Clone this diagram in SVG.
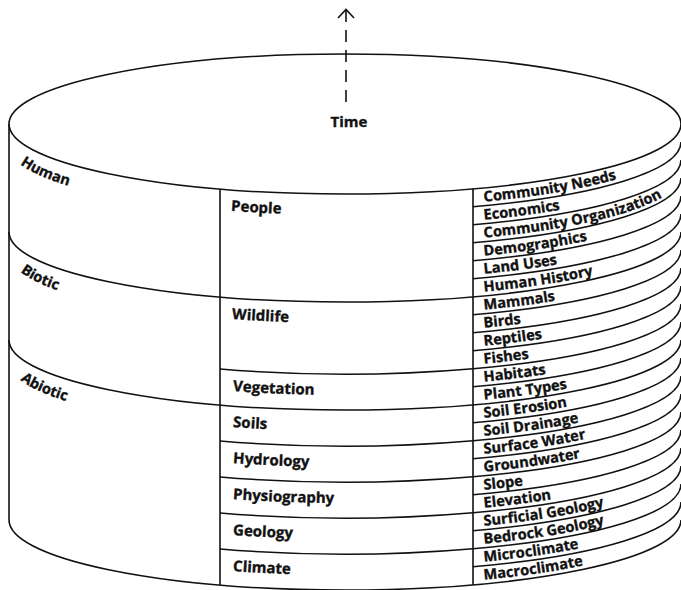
<svg xmlns="http://www.w3.org/2000/svg" width="681" height="590" viewBox="0 0 681 590">
<style>
.ln{fill:none;stroke:#111;stroke-width:1.6}
.t{font-family:"Open Sans","DejaVu Sans",sans-serif;font-weight:700;fill:#111;stroke:#111;stroke-width:0.35}
.r{font-size:14.6px}
.m{font-size:15px}
.l{font-size:14.5px}
</style>
<defs>
<path id="lp" d="M9 124 A336 70 0 0 0 220 189"/>
<path id="mp" d="M220 189 A336 70 0 0 0 473 188.72"/>
<path id="rp" d="M473 188.72 A336 70 0 0 0 681 124"/>
<path id="fp" d="M9 124 A336 70 0 0 0 681 124"/>
</defs>
<rect width="681" height="590" fill="#fff"/>
<g id="connectors">
<line class="ln" x1="346" y1="10" x2="346" y2="108" stroke-dasharray="12 8"/>
<polyline class="ln" points="338,18 346,9.5 354,18"/>
<ellipse class="ln" cx="345" cy="124" rx="336" ry="70"/>
<line class="ln" x1="9" y1="124" x2="9" y2="520"/>
<use href="#fp" class="ln" y="396"/>
<use href="#fp" class="ln" y="108"/>
<use href="#fp" class="ln" y="216"/>
<line class="ln" x1="220" y1="189" x2="220" y2="585"/>
<line class="ln" x1="473" y1="188.7" x2="473" y2="584.7"/>
<use href="#mp" class="ln" y="180"/>
<use href="#mp" class="ln" y="252"/>
<use href="#mp" class="ln" y="288"/>
<use href="#mp" class="ln" y="324"/>
<use href="#mp" class="ln" y="360"/>
<use href="#rp" class="ln" y="18"/>
<use href="#rp" class="ln" y="36"/>
<use href="#rp" class="ln" y="54"/>
<use href="#rp" class="ln" y="72"/>
<use href="#rp" class="ln" y="90"/>
<use href="#rp" class="ln" y="126"/>
<use href="#rp" class="ln" y="144"/>
<use href="#rp" class="ln" y="162"/>
<use href="#rp" class="ln" y="180"/>
<use href="#rp" class="ln" y="198"/>
<use href="#rp" class="ln" y="234"/>
<use href="#rp" class="ln" y="252"/>
<use href="#rp" class="ln" y="270"/>
<use href="#rp" class="ln" y="288"/>
<use href="#rp" class="ln" y="306"/>
<use href="#rp" class="ln" y="324"/>
<use href="#rp" class="ln" y="342"/>
<use href="#rp" class="ln" y="360"/>
<use href="#rp" class="ln" y="378"/>
</g>
<g id="time"><text class="t m" x="349" y="127" text-anchor="middle">Time</text></g>
<g id="human" transform="translate(0,22)"><text class="t l"><textPath href="#lp" startOffset="22">Human</textPath></text></g>
<g id="biotic" transform="translate(0,130)"><text class="t l"><textPath href="#lp" startOffset="22">Biotic</textPath></text></g>
<g id="abiotic" transform="translate(0,238)"><text class="t l"><textPath href="#lp" startOffset="22">Abiotic</textPath></text></g>
<g id="people" transform="translate(0,21)"><text class="t m"><textPath href="#mp" startOffset="11">People</textPath></text></g>
<g id="wildlife" transform="translate(0,129)"><text class="t m"><textPath href="#mp" startOffset="12">Wildlife</textPath></text></g>
<g id="vegetation" transform="translate(0,201)"><text class="t m"><textPath href="#mp" startOffset="13">Vegetation</textPath></text></g>
<g id="soils" transform="translate(0,237)"><text class="t m"><textPath href="#mp" startOffset="13">Soils</textPath></text></g>
<g id="hydrology" transform="translate(0,273)"><text class="t m"><textPath href="#mp" startOffset="13">Hydrology</textPath></text></g>
<g id="physiography" transform="translate(0,309)"><text class="t m"><textPath href="#mp" startOffset="13">Physiography</textPath></text></g>
<g id="geology" transform="translate(0,345)"><text class="t m"><textPath href="#mp" startOffset="13">Geology</textPath></text></g>
<g id="climate" transform="translate(0,381)"><text class="t m"><textPath href="#mp" startOffset="13">Climate</textPath></text></g>
<g id="community-needs" transform="translate(0,14)"><text class="t r"><textPath href="#rp" startOffset="11">Community Needs</textPath></text></g>
<g id="economics" transform="translate(0,32)"><text class="t r"><textPath href="#rp" startOffset="11">Economics</textPath></text></g>
<g id="community-organization" transform="translate(0,50)"><text class="t r"><textPath href="#rp" startOffset="11">Community Organization</textPath></text></g>
<g id="demographics" transform="translate(0,68)"><text class="t r"><textPath href="#rp" startOffset="11">Demographics</textPath></text></g>
<g id="land-uses" transform="translate(0,86)"><text class="t r"><textPath href="#rp" startOffset="11">Land Uses</textPath></text></g>
<g id="human-history" transform="translate(0,104)"><text class="t r"><textPath href="#rp" startOffset="11">Human History</textPath></text></g>
<g id="mammals" transform="translate(0,122)"><text class="t r"><textPath href="#rp" startOffset="11">Mammals</textPath></text></g>
<g id="birds" transform="translate(0,140)"><text class="t r"><textPath href="#rp" startOffset="11">Birds</textPath></text></g>
<g id="reptiles" transform="translate(0,158)"><text class="t r"><textPath href="#rp" startOffset="11">Reptiles</textPath></text></g>
<g id="fishes" transform="translate(0,176)"><text class="t r"><textPath href="#rp" startOffset="11">Fishes</textPath></text></g>
<g id="habitats" transform="translate(0,194)"><text class="t r"><textPath href="#rp" startOffset="11">Habitats</textPath></text></g>
<g id="plant-types" transform="translate(0,212)"><text class="t r"><textPath href="#rp" startOffset="11">Plant Types</textPath></text></g>
<g id="soil-erosion" transform="translate(0,230)"><text class="t r"><textPath href="#rp" startOffset="11">Soil Erosion</textPath></text></g>
<g id="soil-drainage" transform="translate(0,248)"><text class="t r"><textPath href="#rp" startOffset="11">Soil Drainage</textPath></text></g>
<g id="surface-water" transform="translate(0,266)"><text class="t r"><textPath href="#rp" startOffset="11">Surface Water</textPath></text></g>
<g id="groundwater" transform="translate(0,284)"><text class="t r"><textPath href="#rp" startOffset="11">Groundwater</textPath></text></g>
<g id="slope" transform="translate(0,302)"><text class="t r"><textPath href="#rp" startOffset="11">Slope</textPath></text></g>
<g id="elevation" transform="translate(0,320)"><text class="t r"><textPath href="#rp" startOffset="11">Elevation</textPath></text></g>
<g id="surficial-geology" transform="translate(0,338)"><text class="t r"><textPath href="#rp" startOffset="11">Surficial Geology</textPath></text></g>
<g id="bedrock-geology" transform="translate(0,356)"><text class="t r"><textPath href="#rp" startOffset="11">Bedrock Geology</textPath></text></g>
<g id="microclimate" transform="translate(0,374)"><text class="t r"><textPath href="#rp" startOffset="11">Microclimate</textPath></text></g>
<g id="macroclimate" transform="translate(0,392)"><text class="t r"><textPath href="#rp" startOffset="11">Macroclimate</textPath></text></g>
</svg>
